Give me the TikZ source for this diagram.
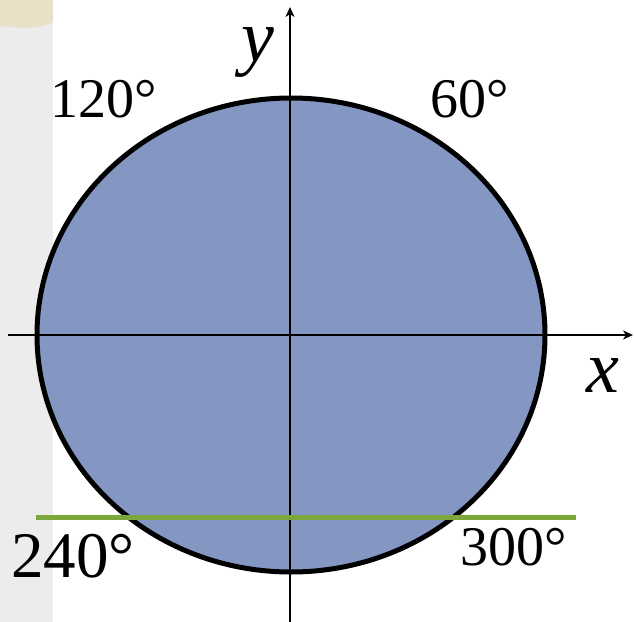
\documentclass[tikz,border=0pt]{standalone}
\usepackage{fontspec}
\setmainfont{Liberation Serif}
\usetikzlibrary{arrows.meta}
\definecolor{discblue}{RGB}{132,151,195}
\definecolor{cutgreen}{RGB}{125,166,60}
\definecolor{stripgray}{RGB}{236,236,236}
\definecolor{paperbeige}{RGB}{233,224,200}
\begin{document}
\begin{tikzpicture}[x=0.5pt, y=-0.5pt, >={Stealth[length=5pt, width=4.5pt, inset=1.5pt]},
  axis/.style={->, line width=1pt},
  disc/.style={fill=discblue, draw=black, line width=2.5pt},
  cut/.style={draw=cutgreen, line width=2.5pt},
  ang/.style={anchor=base, inner sep=0pt, font=\fontsize{28}{30}\selectfont},
  lbl/.style={anchor=base, inner sep=0pt, font=\fontsize{37}{40}\selectfont\itshape}]
\useasboundingbox (0,0) rectangle (634,622);
% Slide background on the left edge.
\fill[stripgray] (0,0) rectangle (53,622);
\fill[paperbeige] (0,0) -- (53,0) -- (53,22) .. controls (40,30) and (15,28) .. (0,26) -- cycle;
% Disc and axes.
\coordinate (O) at (291,335);
\path[disc] (O) ellipse [x radius=254, y radius=237];
\draw[axis] (8,335) coordinate (xl) -- (633,335) coordinate (xr);
\draw[axis] (290,622) coordinate (yb) -- (290,7) coordinate (yt);
\node[lbl] (xlab) at (603,392) {x};
\node[lbl] (ylab) at (258,61) {y};
% Horizontal cut through the lower part.
\draw[cut] (36,517) coordinate (cl) -- (576,517) coordinate (cr);
% Angle labels.
\node[ang] (a120) at (104,117) {120°};
\node[ang] (a60) at (470,117) {60°};
\node[ang, font=\fontsize{32.5}{35}\selectfont] (a240) at (73,577) {240°};
\node[ang] (a300) at (514,565) {300°};
\end{tikzpicture}
\end{document}
